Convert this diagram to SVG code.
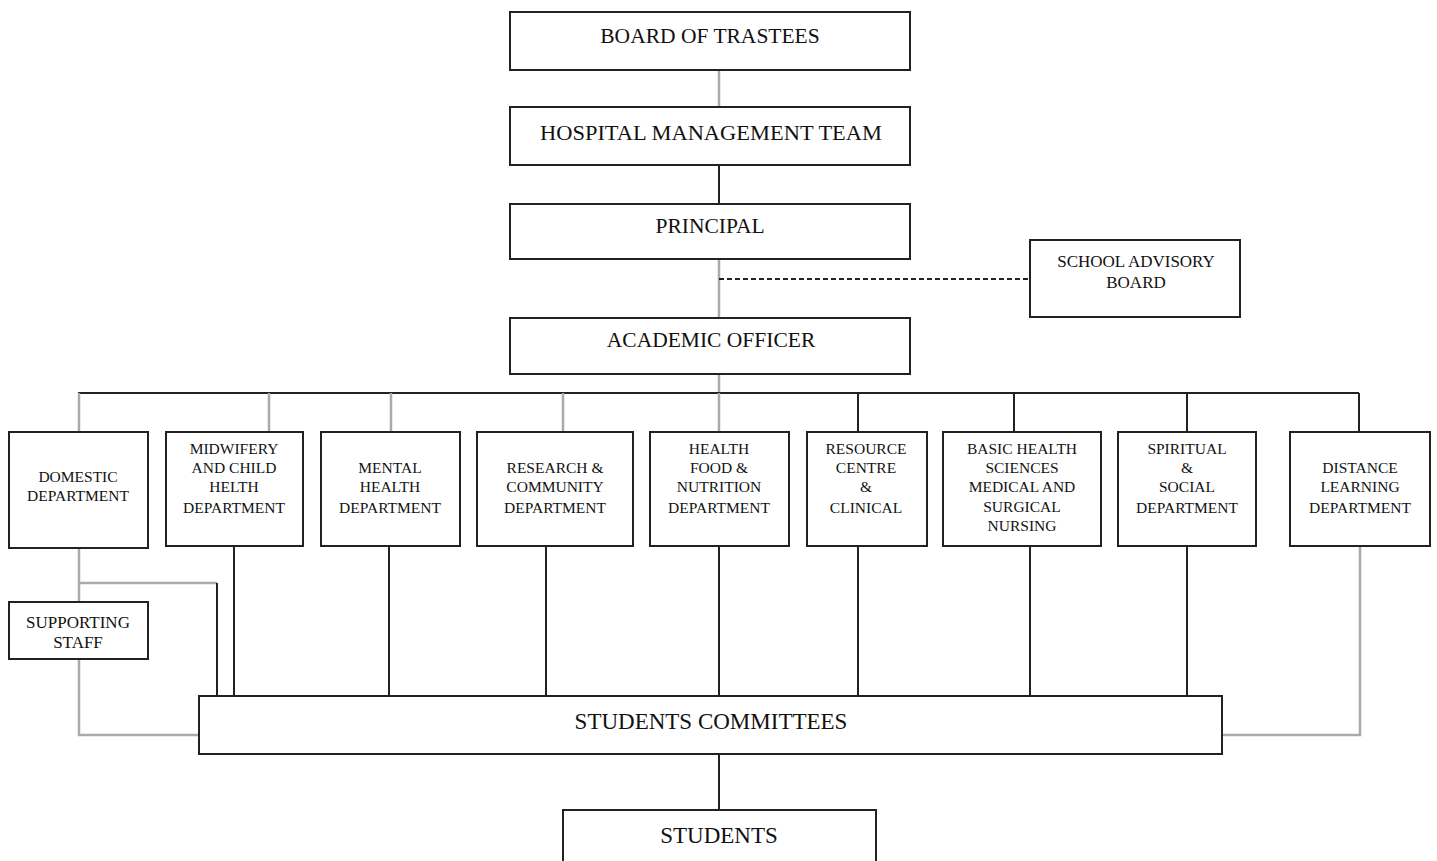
<svg xmlns="http://www.w3.org/2000/svg" width="1437" height="861" viewBox="0 0 1437 861">
<style>
.box{fill:#fff;stroke:#222;stroke-width:2}
.t{font-family:"Liberation Serif","Times New Roman",serif;fill:#111;text-anchor:middle}
.big{font-size:21.5px}
.mid{font-size:17px}
.sm{font-size:15.5px}
.k{stroke:#222;stroke-width:2;fill:none}
.g{stroke:#aaa;stroke-width:2.5;fill:none}
.d{stroke:#222;stroke-width:2;fill:none;stroke-dasharray:5,3}
</style>
<rect width="1437" height="861" fill="#fff"/>
<g id="connectors">
<line class="g" x1="719" y1="70" x2="719" y2="107"/>
<line class="k" x1="719" y1="165" x2="719" y2="204"/>
<line class="g" x1="719" y1="259" x2="719" y2="318"/>
<line class="d" x1="719" y1="279" x2="1030" y2="279"/>
<line class="g" x1="719" y1="374" x2="719" y2="393"/>
<line class="k" x1="78" y1="393" x2="1359" y2="393"/>
<line class="g" x1="79" y1="393" x2="79" y2="432"/>
<line class="g" x1="269" y1="393" x2="269" y2="432"/>
<line class="g" x1="391" y1="393" x2="391" y2="432"/>
<line class="g" x1="563" y1="393" x2="563" y2="432"/>
<line class="g" x1="719" y1="393" x2="719" y2="432"/>
<line class="k" x1="858" y1="393" x2="858" y2="432"/>
<line class="k" x1="1014" y1="393" x2="1014" y2="432"/>
<line class="k" x1="1187" y1="393" x2="1187" y2="432"/>
<line class="k" x1="1359" y1="393" x2="1359" y2="432"/>
<line class="g" x1="79" y1="548" x2="79" y2="602"/>
<polyline class="g" points="79,583 217,583"/>
<line class="k" x1="217" y1="583" x2="217" y2="696"/>
<polyline class="g" points="79,659 79,735 199,735"/>
<line class="k" x1="234" y1="546" x2="234" y2="696"/>
<line class="k" x1="389" y1="546" x2="389" y2="696"/>
<line class="k" x1="546" y1="546" x2="546" y2="696"/>
<line class="k" x1="719" y1="546" x2="719" y2="696"/>
<line class="k" x1="858" y1="546" x2="858" y2="696"/>
<line class="k" x1="1030" y1="546" x2="1030" y2="696"/>
<line class="k" x1="1187" y1="546" x2="1187" y2="696"/>
<polyline class="g" points="1360,546 1360,735 1222,735"/>
<line class="k" x1="719" y1="754" x2="719" y2="810"/>
</g>
<g id="board"><rect class="box" x="510" y="12" width="400" height="58"/><text class="t big" x="710" y="43">BOARD OF TRASTEES</text></g>
<g id="hospital"><rect class="box" x="510" y="107" width="400" height="58"/><text class="t big" x="711" y="140" textLength="342" lengthAdjust="spacingAndGlyphs">HOSPITAL MANAGEMENT TEAM</text></g>
<g id="principal"><rect class="box" x="510" y="204" width="400" height="55"/><text class="t big" x="710" y="233">PRINCIPAL</text></g>
<g id="advisory"><rect class="box" x="1030" y="240" width="210" height="77"/><text class="t mid" x="1136" y="267">SCHOOL ADVISORY</text><text class="t mid" x="1136" y="288">BOARD</text></g>
<g id="academic"><rect class="box" x="510" y="318" width="400" height="56"/><text class="t big" x="711" y="347">ACADEMIC OFFICER</text></g>
<g id="domestic"><rect class="box" x="9" y="432" width="139" height="116"/><text class="t sm" x="78" y="482">DOMESTIC</text><text class="t sm" x="78" y="501">DEPARTMENT</text></g>
<g id="midwifery"><rect class="box" x="166" y="432" width="137" height="114"/><text class="t sm" x="234" y="454">MIDWIFERY</text><text class="t sm" x="234" y="473">AND CHILD</text><text class="t sm" x="234" y="492">HELTH</text><text class="t sm" x="234" y="513">DEPARTMENT</text></g>
<g id="mental"><rect class="box" x="321" y="432" width="139" height="114"/><text class="t sm" x="390" y="473">MENTAL</text><text class="t sm" x="390" y="492">HEALTH</text><text class="t sm" x="390" y="513">DEPARTMENT</text></g>
<g id="research"><rect class="box" x="477" y="432" width="156" height="114"/><text class="t sm" x="555" y="473">RESEARCH &amp;</text><text class="t sm" x="555" y="492">COMMUNITY</text><text class="t sm" x="555" y="513">DEPARTMENT</text></g>
<g id="healthfood"><rect class="box" x="650" y="432" width="139" height="114"/><text class="t sm" x="719" y="454">HEALTH</text><text class="t sm" x="719" y="473">FOOD &amp;</text><text class="t sm" x="719" y="492">NUTRITION</text><text class="t sm" x="719" y="513">DEPARTMENT</text></g>
<g id="resource"><rect class="box" x="807" y="432" width="120" height="114"/><text class="t sm" x="866" y="454">RESOURCE</text><text class="t sm" x="866" y="473">CENTRE</text><text class="t sm" x="866" y="492">&amp;</text><text class="t sm" x="866" y="513">CLINICAL</text></g>
<g id="basic"><rect class="box" x="943" y="432" width="158" height="114"/><text class="t sm" x="1022" y="454">BASIC HEALTH</text><text class="t sm" x="1022" y="473">SCIENCES</text><text class="t sm" x="1022" y="492">MEDICAL AND</text><text class="t sm" x="1022" y="512">SURGICAL</text><text class="t sm" x="1022" y="531">NURSING</text></g>
<g id="spiritual"><rect class="box" x="1118" y="432" width="138" height="114"/><text class="t sm" x="1187" y="454">SPIRITUAL</text><text class="t sm" x="1187" y="473">&amp;</text><text class="t sm" x="1187" y="492">SOCIAL</text><text class="t sm" x="1187" y="513">DEPARTMENT</text></g>
<g id="distance"><rect class="box" x="1290" y="432" width="140" height="114"/><text class="t sm" x="1360" y="473">DISTANCE</text><text class="t sm" x="1360" y="492">LEARNING</text><text class="t sm" x="1360" y="513">DEPARTMENT</text></g>
<g id="supporting"><rect class="box" x="9" y="602" width="139" height="57"/><text class="t mid" x="78" y="628">SUPPORTING</text><text class="t mid" x="78" y="648">STAFF</text></g>
<g id="committees"><rect class="box" x="199" y="696" width="1023" height="58"/><text class="t big" x="711" y="729" style="font-size:23px">STUDENTS COMMITTEES</text></g>
<g id="students"><rect class="box" x="563" y="810" width="313" height="70"/><text class="t big" x="719" y="843" style="font-size:23px">STUDENTS</text></g>
</svg>
